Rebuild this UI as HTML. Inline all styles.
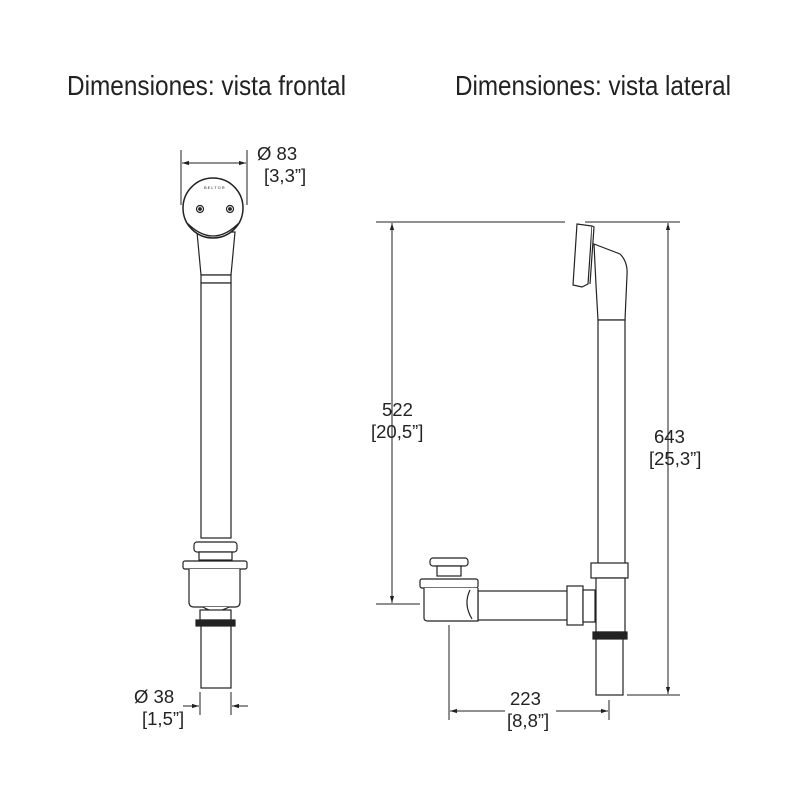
<!DOCTYPE html>
<html><head><style>body{margin:0;background:#fff}svg{display:block}</style></head>
<body>
<svg width="800" height="800" viewBox="0 0 800 800" xmlns="http://www.w3.org/2000/svg" font-family="Liberation Sans, sans-serif">
<defs>
<marker id="a" viewBox="0 0 10 10" refX="10" refY="5" markerWidth="7" markerHeight="7" orient="auto-start-reverse"><path d="M0,2 L10,5 L0,8z" fill="#222"/></marker>
</defs>
<g fill="#222">
<text x="67" y="95" font-size="28" textLength="279" lengthAdjust="spacingAndGlyphs">Dimensiones: vista frontal</text>
<text x="455" y="95" font-size="28" textLength="276" lengthAdjust="spacingAndGlyphs">Dimensiones: vista lateral</text>
<g font-size="18.5">
<text x="257" y="160">Ø 83</text><text x="264" y="182">[3,3”]</text>
<text x="134" y="703">Ø 38</text><text x="142" y="725">[1,5”]</text>
<text x="382" y="416">522</text><text x="371" y="438">[20,5”]</text>
<text x="654" y="443">643</text><text x="649" y="465">[25,3”]</text>
<text x="510" y="705">223</text><text x="507" y="727">[8,8”]</text>
</g>
</g>
<g stroke="#222" stroke-width="1" fill="none">
<line x1="181" y1="150" x2="181" y2="205"/><line x1="247" y1="150" x2="247" y2="205"/>
<line x1="182" y1="163" x2="246" y2="163" marker-start="url(#a)" marker-end="url(#a)"/>
<line x1="200" y1="692" x2="200" y2="715"/><line x1="231" y1="692" x2="231" y2="715"/>
<line x1="183" y1="706" x2="199" y2="706" marker-end="url(#a)"/><line x1="248" y1="706" x2="232" y2="706" marker-end="url(#a)"/>
<line x1="376" y1="222" x2="565" y2="222"/><line x1="585" y1="222" x2="680" y2="222"/>
<line x1="376" y1="604" x2="420" y2="604"/>
<line x1="392" y1="223" x2="392" y2="603" marker-start="url(#a)" marker-end="url(#a)"/>
<line x1="627" y1="695" x2="680" y2="695"/>
<line x1="668" y1="223" x2="668" y2="694" marker-start="url(#a)" marker-end="url(#a)"/>
<line x1="449" y1="625" x2="449" y2="720"/><line x1="609" y1="700" x2="609" y2="720"/>
<line x1="450" y1="711" x2="505" y2="711" marker-start="url(#a)"/><line x1="556" y1="711" x2="608" y2="711" marker-end="url(#a)"/>
</g>
<g stroke="#222" stroke-width="1.2" fill="#fff">
<path d="M197,232 L201,275 L231,275 L235,232 Z"/>
<rect x="201" y="275" width="30" height="8"/>
<rect x="201" y="283" width="30" height="255"/>
<circle cx="213" cy="208" r="30" stroke-width="1.5"/>
<path d="M186,222 Q213,250 240,222" stroke-width="1.3"/>
<circle cx="200" cy="209" r="3.5"/><circle cx="230" cy="209" r="3.5"/>
<circle cx="200" cy="209" r="1.3" fill="#222"/><circle cx="230" cy="209" r="1.3" fill="#222"/>
<text x="204" y="189" font-size="4" fill="#222" stroke="none" letter-spacing="1">BELTOR</text>
<rect x="194" y="542" width="43" height="10" rx="3"/>
<rect x="199" y="552" width="33" height="8"/>
<rect x="183" y="561" width="64" height="8" rx="2"/>
<path d="M189,569 L189,602 Q189,607 194,607 L235,607 Q240,607 240,602 L240,569"/>
<path d="M203,607 Q215,615 229,607"/>
<rect x="200" y="610" width="31" height="10"/>
<rect x="196" y="620" width="39" height="6" fill="#222"/>
<rect x="201" y="626" width="30" height="62"/>
<path d="M594,244 L620,254 Q628,262 627,275 L625,320 L598,320 L596,285 Z"/>
<path d="M577,224 L592,226 L588,284 L582,287 L573,285 Z"/>
<path d="M592,226 L594,227 L590,284"/>
<rect x="598" y="320" width="27" height="245"/>
<rect x="591" y="563" width="37" height="15"/>
<rect x="596" y="578" width="29" height="54"/>
<rect x="593" y="632" width="34" height="7" fill="#222"/>
<rect x="596" y="639" width="27" height="56"/>
<rect x="478" y="591" width="90" height="29"/>
<rect x="567" y="586" width="16" height="39"/>
<rect x="583" y="590" width="12" height="32"/>
<rect x="430" y="558" width="38" height="8" rx="3"/>
<rect x="437" y="566" width="24" height="10"/>
<rect x="420" y="579" width="58" height="9" rx="2"/>
<path d="M424,588 L424,618 Q424,621 428,621 L478,621 L478,588"/>
<path d="M470,590 Q463,604 472,619"/>
</g>
</svg>
</body></html>
